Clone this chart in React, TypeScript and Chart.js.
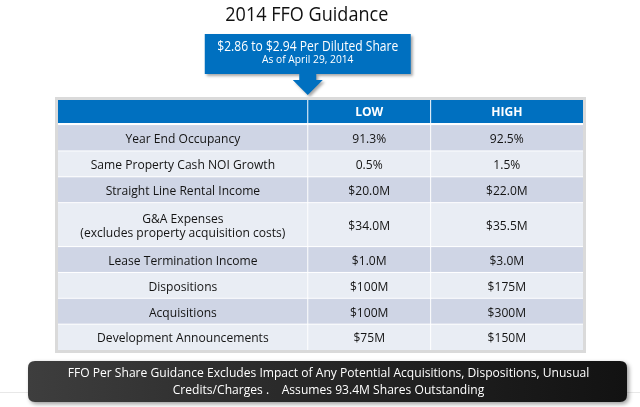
import { useEffect, useRef } from "react";
import { Chart, registerables } from "chart.js";

Chart.register(...registerables);

// ---- content ----
const titleText = "2014 FFO Guidance";
const calloutLines = ["$2.86 to $2.94 Per Diluted Share", "As of April 29, 2014"];
const columnHeaders = ["", "LOW", "HIGH"];
const rowLabels = [
  "Year End Occupancy",
  "Same Property Cash NOI Growth",
  "Straight Line Rental Income",
  "G&A Expenses\n(excludes property acquisition costs)",
  "Lease Termination Income",
  "Dispositions",
  "Acquisitions",
  "Development Announcements",
];
const lowValues = ["91.3%", "0.5%", "$20.0M", "$34.0M", "$1.0M", "$100M", "$100M", "$75M"];
const highValues = ["92.5%", "1.5%", "$22.0M", "$35.5M", "$3.0M", "$175M", "$300M", "$150M"];
const footnoteLines = [
  "FFO Per Share Guidance Excludes Impact of Any Potential Acquisitions, Dispositions, Unusual",
  "Credits/Charges .    Assumes 93.4M Shares Outstanding",
];

// ---- layout (not data) ----
const COL_UNITS = [250, 123, 152.5];
const HEADER_UNITS = 0.89;
const GAP_UNITS = 0.08;
const EXTRA_LINE_UNITS = 0.7;
const FONT = "'Open Sans', 'Noto Sans', sans-serif";
const SQUEEZE = 0.93;
const BLUE = "#0070C0";
const BAND_A = "#CFD5E5";
const BAND_B = "#E9EDF4";
const TEXT = "#141414";

const rowUnits = rowLabels.map((l) => 1 + EXTRA_LINE_UNITS * (l.split("\n").length - 1));
const totalRowUnits = HEADER_UNITS + GAP_UNITS + rowUnits.reduce((a, b) => a + b, 0);
const totalColUnits = COL_UNITS.reduce((a, b) => a + b, 0);
const colEdges = COL_UNITS.reduce<number[]>((acc, w) => [...acc, acc[acc.length - 1] + w], [0]);
const rowEdges = rowUnits.reduce<number[]>(
  (acc, h) => [...acc, acc[acc.length - 1] + h],
  [HEADER_UNITS + GAP_UNITS]
);

function roundRect(ctx: CanvasRenderingContext2D, x: number, y: number, w: number, h: number, r: number) {
  ctx.beginPath();
  ctx.moveTo(x + r, y);
  ctx.lineTo(x + w - r, y);
  ctx.quadraticCurveTo(x + w, y, x + w, y + r);
  ctx.lineTo(x + w, y + h - r);
  ctx.quadraticCurveTo(x + w, y + h, x + w - r, y + h);
  ctx.lineTo(x + r, y + h);
  ctx.quadraticCurveTo(x, y + h, x, y + h - r);
  ctx.lineTo(x, y + r);
  ctx.quadraticCurveTo(x, y, x + r, y);
  ctx.closePath();
}

function squeezedText(ctx: CanvasRenderingContext2D, text: string, x: number, y: number, sx: number, maxW?: number) {
  ctx.save();
  ctx.translate(x, y);
  ctx.scale(sx, 1);
  if (maxW) ctx.fillText(text, 0, 0, maxW / sx);
  else ctx.fillText(text, 0, 0);
  ctx.restore();
}

const tablePlugin = {
  id: "guidanceTable",
  beforeDraw(chart: any) {
    const ctx: CanvasRenderingContext2D = chart.ctx;
    ctx.save();
    ctx.fillStyle = "#ffffff";
    ctx.fillRect(0, 0, chart.width, chart.height);
    ctx.restore();
  },
  afterDraw(chart: any) {
    const ctx: CanvasRenderingContext2D = chart.ctx;
    const xs = chart.scales.x;
    const ys = chart.scales.y;
    const px = (v: number) => xs.getPixelForValue(v);
    const py = (v: number) => ys.getPixelForValue(v);
    const left = px(0);
    const right = px(totalColUnits);
    const top = py(0);
    const bottom = py(totalRowUnits);
    const anchorX = px(colEdges[1]);

    ctx.save();
    ctx.textAlign = "center";
    ctx.textBaseline = "alphabetic";

    // title
    ctx.fillStyle = "#111111";
    ctx.font = `20px ${FONT}`;
    squeezedText(ctx, titleText, anchorX - 1, top - 79, SQUEEZE, 163);

    // callout box with arrow
    const cx = anchorX;
    const bx0 = cx - 103, bx1 = cx + 103, by0 = top - 66, by1 = top - 26;
    ctx.save();
    ctx.shadowColor = "rgba(0,0,0,0.35)";
    ctx.shadowOffsetX = 2;
    ctx.shadowOffsetY = 2;
    ctx.shadowBlur = 3;
    ctx.beginPath();
    ctx.moveTo(bx0, by0);
    ctx.lineTo(bx1, by0);
    ctx.lineTo(bx1, by1);
    ctx.lineTo(cx + 8.5, by1);
    ctx.lineTo(cx + 8.5, by1 + 6);
    ctx.lineTo(cx + 15, by1 + 6);
    ctx.lineTo(cx, by1 + 21);
    ctx.lineTo(cx - 15, by1 + 6);
    ctx.lineTo(cx - 8.5, by1 + 6);
    ctx.lineTo(cx - 8.5, by1);
    ctx.lineTo(bx0, by1);
    ctx.closePath();
    ctx.fillStyle = BLUE;
    ctx.fill();
    ctx.restore();
    ctx.fillStyle = "#ffffff";
    ctx.font = `14px ${FONT}`;
    squeezedText(ctx, calloutLines[0], cx, by0 + 17, SQUEEZE, 181);
    ctx.font = `11px ${FONT}`;
    squeezedText(ctx, calloutLines[1], cx, by0 + 28.5, SQUEEZE, 95);

    // table frame
    ctx.fillStyle = "#dadada";
    ctx.fillRect(left - 3, top - 3, right - left + 6, bottom - top + 6);
    ctx.fillStyle = "#ffffff";
    ctx.fillRect(left, top, right - left, bottom - top);

    // header cells
    for (let c = 0; c < COL_UNITS.length; c++) {
      const x0 = px(colEdges[c]) + (c > 0 ? 0.5 : 0);
      const x1 = px(colEdges[c + 1]) - (c < COL_UNITS.length - 1 ? 0.5 : 0);
      ctx.fillStyle = BLUE;
      ctx.fillRect(x0, py(0), x1 - x0, py(HEADER_UNITS) - py(0));
    }
    // body cells
    for (let r = 0; r < rowLabels.length; r++) {
      const y0 = py(rowEdges[r]) + (r > 0 ? 0.5 : 0);
      const y1 = py(rowEdges[r + 1]) - (r < rowLabels.length - 1 ? 0.5 : 0);
      for (let c = 0; c < COL_UNITS.length; c++) {
        const x0 = px(colEdges[c]) + (c > 0 ? 0.5 : 0);
        const x1 = px(colEdges[c + 1]) - (c < COL_UNITS.length - 1 ? 0.5 : 0);
        ctx.fillStyle = r % 2 === 0 ? BAND_A : BAND_B;
        ctx.fillRect(x0, y0, x1 - x0, y1 - y0);
      }
    }

    // header text
    ctx.fillStyle = "#ffffff";
    ctx.font = `bold 13px ${FONT}`;
    const hc = py(HEADER_UNITS / 2);
    for (let c = 0; c < COL_UNITS.length; c++) {
      if (!columnHeaders[c]) continue;
      squeezedText(ctx, columnHeaders[c], px((colEdges[c] + colEdges[c + 1]) / 2), hc + 4.5, SQUEEZE);
    }

    // body text
    ctx.fillStyle = TEXT;
    ctx.font = `13px ${FONT}`;
    const cols = [rowLabels, lowValues, highValues];
    for (let r = 0; r < rowLabels.length; r++) {
      const yc = py((rowEdges[r] + rowEdges[r + 1]) / 2);
      for (let c = 0; c < cols.length; c++) {
        const xc = px((colEdges[c] + colEdges[c + 1]) / 2);
        const lines = cols[c][r].split("\n");
        const lh = 14;
        const start = yc + 5.3 - ((lines.length - 1) * lh) / 2;
        lines.forEach((ln, i) => squeezedText(ctx, ln, xc, start + i * lh, SQUEEZE));
      }
    }

    // ground line
    const fy0 = bottom + 11, fy1 = bottom + 52;
    ctx.fillStyle = "#e8e8e8";
    ctx.fillRect(0, fy1 - 10, chart.width, 1);

    // footnote box
    const fx0 = left - 30, fx1 = right + 44;
    ctx.save();
    ctx.shadowColor = "rgba(0,0,0,0.4)";
    ctx.shadowOffsetX = 2;
    ctx.shadowOffsetY = 2;
    ctx.shadowBlur = 4;
    const g = ctx.createLinearGradient(fx0, 0, fx1, 0);
    g.addColorStop(0, "#3e3e3e");
    g.addColorStop(0.5, "#262626");
    g.addColorStop(1, "#121212");
    ctx.fillStyle = g;
    roundRect(ctx, fx0, fy0, fx1 - fx0, fy1 - fy0, 7);
    ctx.fill();
    ctx.restore();
    ctx.fillStyle = "#ffffff";
    ctx.font = `13px ${FONT}`;
    const fcx = (fx0 + fx1) / 2 + 1;
    squeezedText(ctx, footnoteLines[0], fcx, fy0 + 16, SQUEEZE, 528);
    squeezedText(ctx, footnoteLines[1], fcx, fy0 + 33, SQUEEZE, 318);

    ctx.restore();
  },
};

export default function App() {
  const canvasRef = useRef<HTMLCanvasElement | null>(null);

  useEffect(() => {
    document.body.style.margin = "0";
    const canvas = canvasRef.current;
    if (!canvas) return;
    const chart = new Chart(canvas, {
      type: "scatter",
      data: {
        datasets: [
          {
            data: rowLabels.map((_, r) => ({ x: colEdges[0], y: (rowEdges[r] + rowEdges[r + 1]) / 2 })),
            pointRadius: 0,
            showLine: false,
          },
        ],
      },
      options: {
        responsive: false,
        animation: false,
        events: [],
        layout: { padding: { left: 58, right: 57, top: 100, bottom: 57 } },
        scales: {
          x: { type: "linear", min: 0, max: totalColUnits, display: false },
          y: { type: "linear", min: 0, max: totalRowUnits, reverse: true, display: false },
        },
        plugins: {
          legend: { display: false },
          tooltip: { enabled: false },
          title: { display: false },
        },
      },
      plugins: [tablePlugin],
    });
    return () => chart.destroy();
  }, []);

  return (
    <div style={{ width: 640, height: 407 }}>
      <canvas ref={canvasRef} width={640} height={407} style={{ display: "block" }} />
    </div>
  );
}
